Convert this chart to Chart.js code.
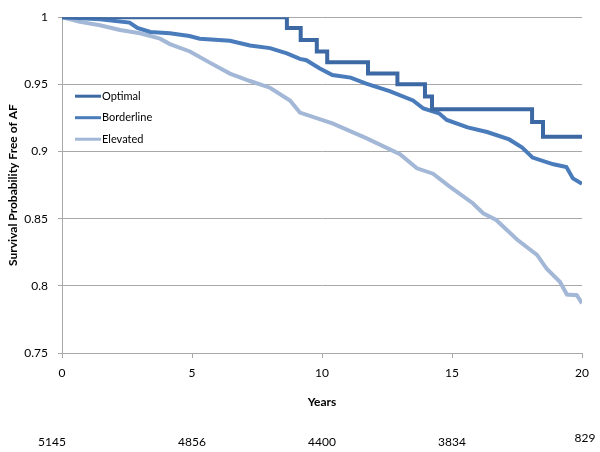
<!DOCTYPE html>
<html>
<head>
<meta charset="utf-8">
<script src="https://cdn.jsdelivr.net/npm/chart.js@4"></script>
<style>
  body { margin: 0; background: #fff; }
</style>
</head>
<body>
<canvas id="afChart" width="600" height="452"></canvas>
<script>
// survival curves (years, probability)
const optimalYears = [0, 8.65, 9.18, 9.8, 10.2, 11.77, 12.9, 13.96, 14.23, 18.08, 18.5, 20];
const optimalSurv = [1, 0.992, 0.983, 0.9745, 0.9665, 0.958, 0.95, 0.941, 0.9315, 0.922, 0.911, 0.911];

const borderlineYears = [0, 1.46, 2.6, 2.9, 3.4, 4.15, 4.9, 5.3, 6.46, 7.23, 8.0, 8.65, 9.15, 9.4, 9.9, 10.4, 11.1, 11.7, 12.6, 13.5, 13.9, 14.5, 14.8, 15.6, 16.35, 17.2, 17.7, 18.1, 18.9, 19.4, 19.65, 20];
const borderlineSurv = [1, 0.9985, 0.996, 0.992, 0.989, 0.988, 0.986, 0.984, 0.9825, 0.979, 0.977, 0.973, 0.969, 0.968, 0.962, 0.957, 0.955, 0.9505, 0.945, 0.938, 0.932, 0.9285, 0.9235, 0.918, 0.9145, 0.909, 0.903, 0.8955, 0.8905, 0.8885, 0.88, 0.876];

const elevatedYears = [0, 0.69, 1.46, 2.23, 3.0, 3.77, 4.15, 4.92, 5.7, 6.46, 7.23, 8.0, 8.77, 9.15, 10.4, 11.7, 13.0, 13.65, 14.27, 14.9, 15.8, 16.2, 16.7, 17.5, 18.27, 18.65, 19.15, 19.42, 19.8, 20];
const elevatedSurv = [1, 0.9965, 0.994, 0.9905, 0.988, 0.984, 0.98, 0.9745, 0.966, 0.958, 0.9525, 0.9475, 0.938, 0.929, 0.921, 0.91, 0.898, 0.8875, 0.8835, 0.874, 0.8615, 0.854, 0.849, 0.8345, 0.823, 0.8125, 0.803, 0.7935, 0.793, 0.787];

// numbers at risk under the axis
const atRiskYears = [0, 5, 10, 15, 20];
const atRiskCounts = [5145, 4856, 4400, 3834, 829];

const seriesNames = ['Optimal', 'Borderline', 'Elevated'];

function toPoints(xs, ys) {
    return xs.map((x, i) => ({ x: x, y: ys[i] }));
}

const fontFamily = 'Lato, "Open Sans", sans-serif';

// legend drawn inside the plot, top left
const insideLegend = {
    id: 'insideLegend',
    afterDraw(chart) {
        const ctx = chart.ctx;
        const area = chart.chartArea;
        ctx.save();
        ctx.font = '11px ' + fontFamily;
        ctx.textBaseline = 'middle';
        ctx.fillStyle = '#000';
        chart.data.datasets.forEach((ds, i) => {
            const y = area.top + 79 + i * 21.5;
            ctx.strokeStyle = ds.borderColor;
            ctx.lineWidth = 3;
            ctx.beginPath();
            ctx.moveTo(area.left + 13, y);
            ctx.lineTo(area.left + 39, y);
            ctx.stroke();
            ctx.fillText(ds.label, area.left + 40, y);
        });
        ctx.restore();
    }
};

// at-risk row
const atRiskRow = {
    id: 'atRiskRow',
    afterDraw(chart) {
        const ctx = chart.ctx;
        const xScale = chart.scales.x;
        ctx.save();
        ctx.font = '12px ' + fontFamily;
        ctx.textAlign = 'center';
        ctx.textBaseline = 'middle';
        ctx.fillStyle = '#000';
        atRiskCounts.forEach((n, i) => {
            let x = xScale.getPixelForValue(atRiskYears[i]);
            let y = 442;
            if (i === 0) x -= 10;
            if (i === atRiskCounts.length - 1) { x += 3; y = 438; }
            ctx.fillText(String(n), x, y);
        });
        ctx.restore();
    }
};

const ctx = document.getElementById('afChart').getContext('2d');
const afChart = new Chart(ctx, {
    type: 'line',
    data: {
        datasets: [{
            label: seriesNames[0],
            data: toPoints(optimalYears, optimalSurv),
            borderColor: '#3c69a3',
            borderWidth: 4,
            stepped: 'before',
            pointRadius: 0
        }, {
            label: seriesNames[1],
            data: toPoints(borderlineYears, borderlineSurv),
            borderColor: '#4a7cbb',
            borderWidth: 4,
            pointRadius: 0
        }, {
            label: seriesNames[2],
            data: toPoints(elevatedYears, elevatedSurv),
            borderColor: '#a3b7d7',
            borderWidth: 4,
            pointRadius: 0
        }]
    },
    options: {
        responsive: false,
        animation: false,
        layout: {
            padding: { top: 10, right: 18, bottom: 39, left: 0 }
        },
        plugins: {
            legend: { display: false },
            tooltip: { enabled: false }
        },
        scales: {
            x: {
                type: 'linear',
                min: 0,
                max: 20,
                ticks: {
                    stepSize: 5,
                    padding: 8,
                    color: '#000',
                    font: { family: fontFamily, size: 12 }
                },
                grid: {
                    drawOnChartArea: false,
                    drawTicks: true,
                    tickLength: 5,
                    color: '#a8a8a8'
                },
                border: { color: '#a8a8a8' },
                title: {
                    display: true,
                    text: 'Years',
                    color: '#000',
                    font: { family: fontFamily, size: 12, weight: 'bold' },
                    padding: { top: 4, bottom: 4 }
                },
                afterFit: (scale) => { scale.height = 60; }
            },
            y: {
                min: 0.75,
                max: 1,
                ticks: {
                    stepSize: 0.05,
                    padding: 10,
                    color: '#000',
                    font: { family: fontFamily, size: 12 },
                    callback: (v) => String(+v.toFixed(2))
                },
                grid: {
                    color: '#a8a8a8',
                    tickLength: 4
                },
                border: { color: '#a8a8a8' },
                title: {
                    display: true,
                    text: 'Survival Probability Free of AF',
                    color: '#000',
                    font: { family: fontFamily, size: 12, weight: 'bold' },
                    padding: { top: 6, bottom: 4 }
                },
                afterFit: (scale) => { scale.width = 62; }
            }
        }
    },
    plugins: [insideLegend, atRiskRow]
});
</script>
</body>
</html>
